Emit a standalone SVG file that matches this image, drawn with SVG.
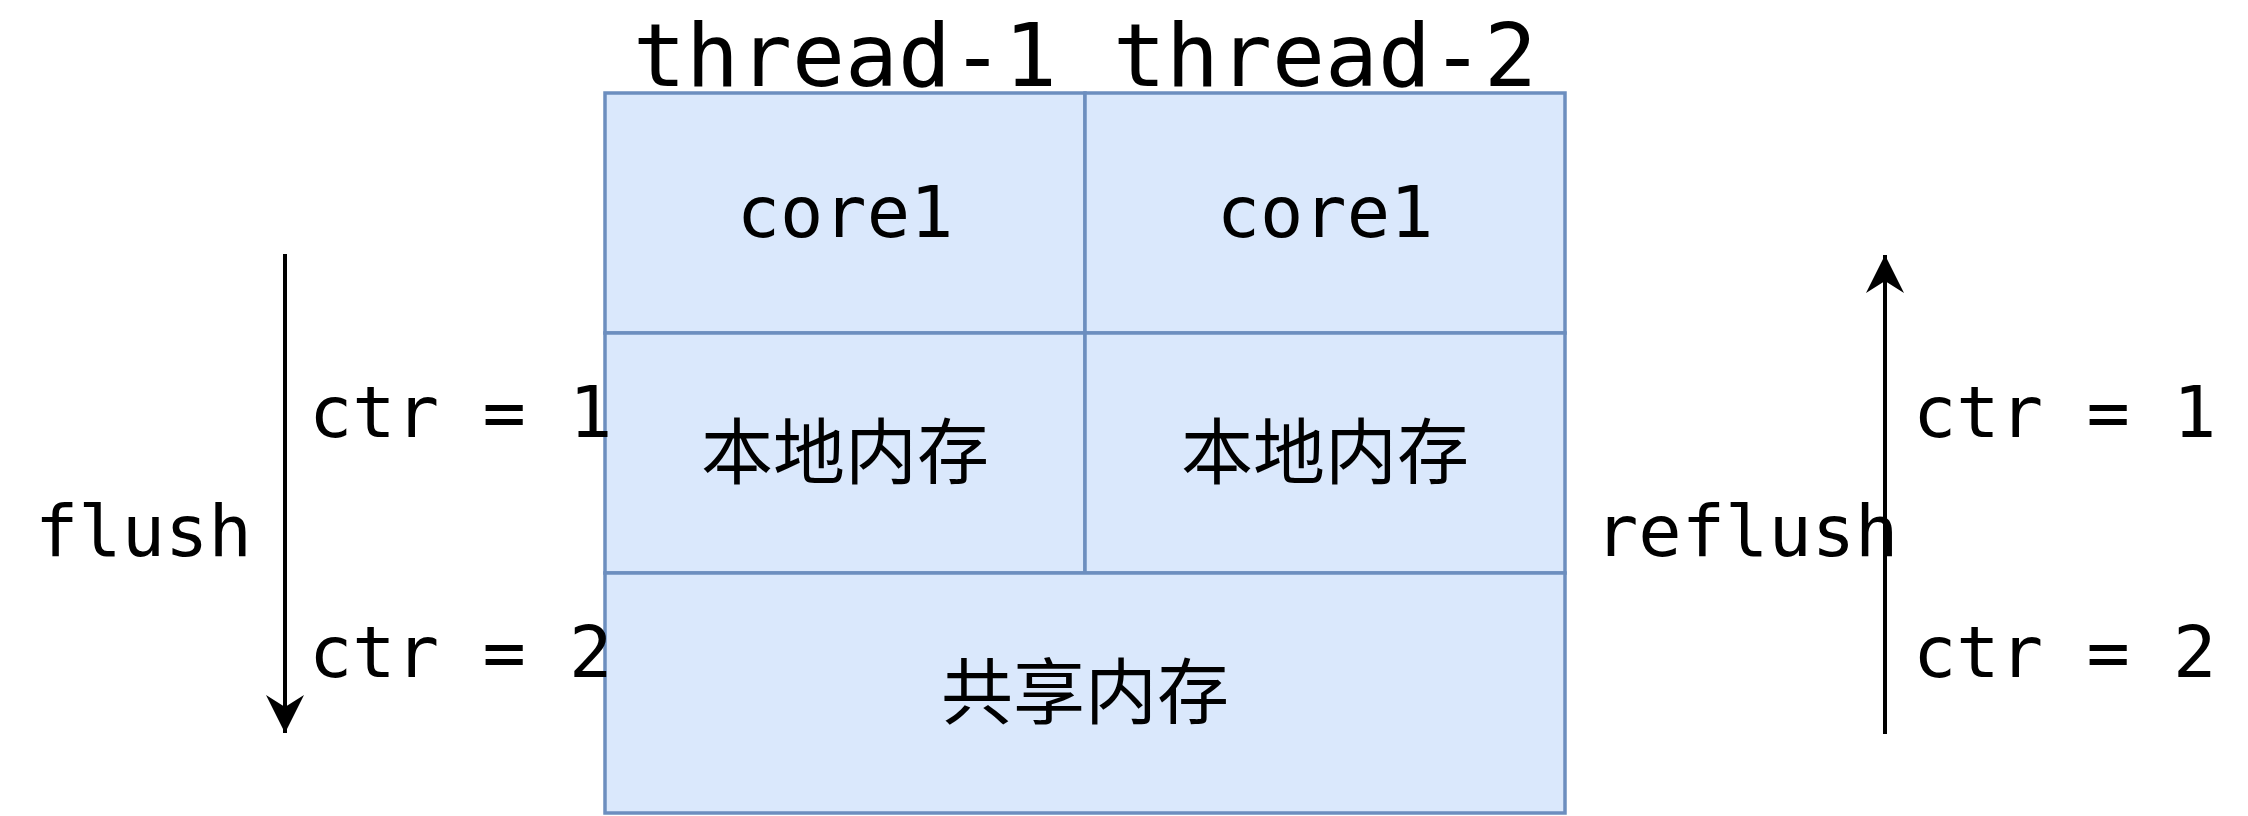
<svg xmlns="http://www.w3.org/2000/svg" width="2248" height="816" viewBox="0 0 2248 816">
<style>
.box{fill:#dae8fc;stroke:#6c8ebf;stroke-width:3.5}
.t{font-family:"DejaVu Sans Mono","Liberation Mono","Noto Sans CJK SC",monospace;fill:#000}
.m{font-size:72px}
.h{font-size:88px}
.cjk{font-family:"Noto Sans CJK SC","Noto Sans",sans-serif;font-size:72px;fill:#000}
.conn{stroke:#000;stroke-width:4;fill:none}
</style>
<defs>
<marker id="arr" viewBox="0 0 40 40" refX="38" refY="20" markerWidth="40" markerHeight="40" markerUnits="userSpaceOnUse" orient="auto">
<path d="M38,20 L0,1 L12,20 L0,39 Z" fill="#000"/>
</marker>
</defs>
<rect width="2248" height="816" fill="#fff"/>
<g id="header1"><text class="t h" x="845" y="86" text-anchor="middle">thread-1</text></g>
<g id="header2"><text class="t h" x="1325" y="86" text-anchor="middle">thread-2</text></g>
<g id="core1a"><rect class="box" x="605" y="93" width="480" height="240"/><text class="t m" x="845" y="237" text-anchor="middle">core1</text></g>
<g id="core1b"><rect class="box" x="1085" y="93" width="480" height="240"/><text class="t m" x="1325" y="237" text-anchor="middle">core1</text></g>
<g id="local1"><rect class="box" x="605" y="333" width="480" height="240"/><text class="cjk" x="845" y="478" text-anchor="middle">本地内存</text></g>
<g id="local2"><rect class="box" x="1085" y="333" width="480" height="240"/><text class="cjk" x="1325" y="478" text-anchor="middle">本地内存</text></g>
<g id="shared"><rect class="box" x="605" y="573" width="960" height="240"/><text class="cjk" x="1085" y="718" text-anchor="middle">共享内存</text></g>
<g id="connectors">
<line class="conn" x1="285" y1="254" x2="285" y2="733" marker-end="url(#arr)"/>
<line class="conn" x1="1885" y1="734" x2="1885" y2="255" marker-end="url(#arr)"/>
</g>
<g id="labels">
<text class="t m" x="35" y="556">flush</text>
<text class="t m" x="309" y="437">ctr = 1</text>
<text class="t m" x="309" y="677">ctr = 2</text>
<text class="t m" x="1595" y="556">reflush</text>
<text class="t m" x="1913" y="437">ctr = 1</text>
<text class="t m" x="1913" y="677">ctr = 2</text>
</g>
</svg>
